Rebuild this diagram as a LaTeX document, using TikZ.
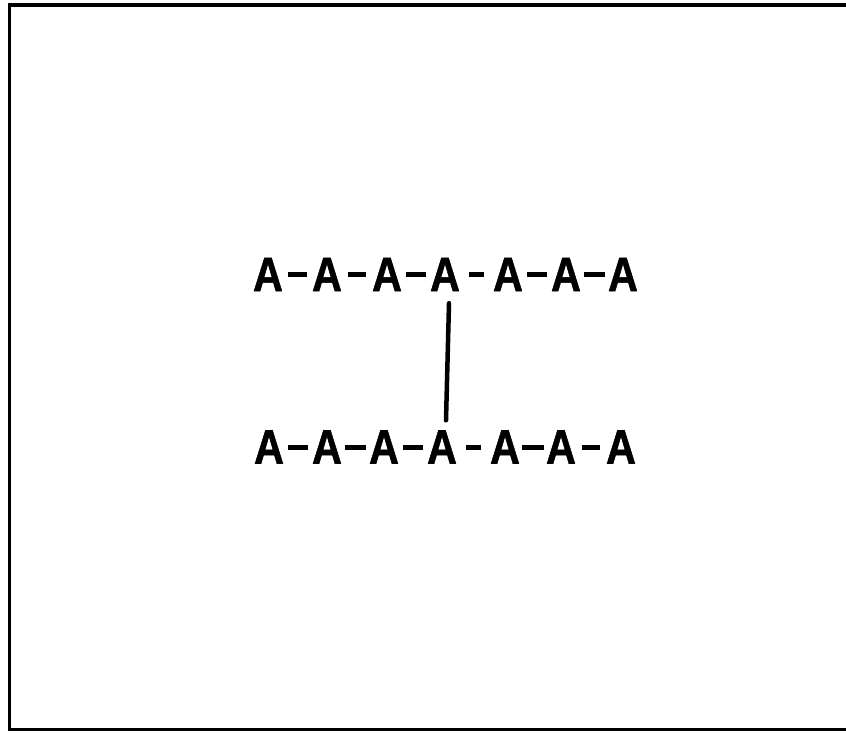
\documentclass[tikz,border=0pt]{standalone}
\usepackage{fontspec}
\newfontfamily\chainfont[FakeStretch=0.86,FakeBold=1.2]{Liberation Sans}
\tikzset{
  unit/.style={inner sep=0pt, font=\chainfont\bfseries\fontsize{48}{48}\selectfont},
  bond/.style={line width=5pt, shorten <=24pt, shorten >=24pt},
  link/.style={line width=4.5pt, line cap=round},
  frame/.style={line width=3.5pt}
}
\begin{document}
\begin{tikzpicture}[x=1pt,y=-1pt]
	\useasboundingbox (0,0) rectangle (846,732);
	% Frame, open on the right
	\draw[frame] (846,5) -- (9.5,5) -- (9.5,729.5) -- (846,729.5);
	
	% Upper chain
	\foreach \x [count=\i] in {268,327,387,445,508,566,623}
		\node[unit] (t\i) at (\x,274.5) {A};
	% Lower chain
	\foreach \x [count=\i] in {269,327,384,442,505,561,621}
		\node[unit] (b\i) at (\x,447) {A};
	
	% Bonds inside each chain
	\foreach \i/\j in {1/2,2/3,3/4,4/5,5/6,6/7} {
		\draw[bond] (t\i) -- (t\j);
		\draw[bond] (b\i) -- (b\j);
	}
	
	% Cross link between the chains
	\draw[link] ([xshift=4pt,yshift=-12pt]t4.south) -- ([xshift=4pt,yshift=10pt]b4.north);
\end{tikzpicture}
\end{document}
